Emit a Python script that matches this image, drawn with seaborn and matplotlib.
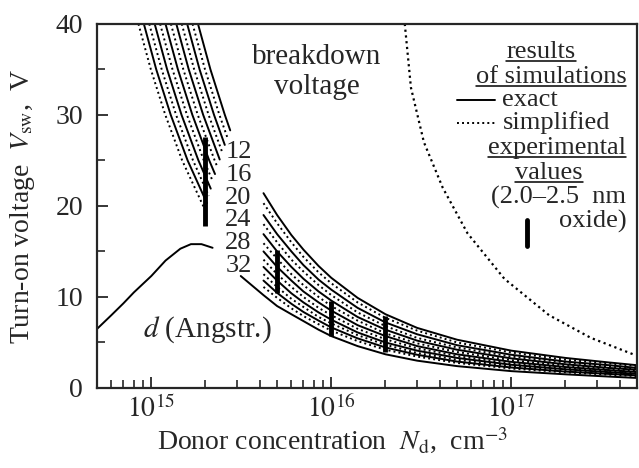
import numpy as np
import matplotlib
matplotlib.use("Agg")
import matplotlib.pyplot as plt
import seaborn as sns
from matplotlib.ticker import FixedLocator, LogLocator, NullFormatter, FuncFormatter, MultipleLocator

# --- data ----------------------------------------------------------------
# oxide thicknesses (Angstrom) of the simulated curves
thicknesses = [12, 16, 20, 24, 28, 32]

# right branch: turn-on voltage at shared donor concentrations
right_n = [4.2e15, 5e15, 6e15, 7e15, 8.5e15, 1e16, 1.4e16, 2e16, 3e16, 5e16,
           1e17, 2e17, 3.5e17, 5e17]
exact_right = {
    12: [21.4, 19.0, 16.8, 15.2, 13.4, 12.1, 9.9, 8.1, 6.6, 5.3, 4.1, 3.3, 2.8, 2.5],
    16: [19.0, 16.9, 15.0, 13.5, 11.9, 10.8, 8.8, 7.2, 5.9, 4.7, 3.65, 2.9, 2.5, 2.2],
    20: [16.9, 15.0, 13.3, 12.0, 10.6, 9.6, 7.8, 6.4, 5.2, 4.2, 3.25, 2.6, 2.2, 2.0],
    24: [15.0, 13.3, 11.8, 10.6, 9.4, 8.5, 6.9, 5.7, 4.6, 3.7, 2.87, 2.3, 1.96, 1.75],
    28: [13.3, 11.8, 10.4, 9.4, 8.3, 7.5, 6.1, 5.0, 4.1, 3.3, 2.55, 2.05, 1.74, 1.55],
    32: [11.8, 10.45, 9.25, 8.35, 7.4, 6.65, 5.45, 4.45, 3.65, 2.9, 2.25, 1.8, 1.54, 1.38],
}
simple_right = {
    12: [20.3, 18.1, 16.0, 14.4, 12.7, 11.5, 9.4, 7.7, 6.3, 5.0, 3.9, 3.1, 2.7, 2.4],
    16: [18.0, 16.0, 14.1, 12.8, 11.3, 10.2, 8.3, 6.8, 5.5, 4.45, 3.45, 2.8, 2.35, 2.1],
    20: [15.9, 14.2, 12.5, 11.3, 10.0, 9.0, 7.4, 6.0, 4.9, 3.95, 3.05, 2.45, 2.1, 1.86],
    24: [14.1, 12.5, 11.1, 10.0, 8.8, 8.0, 6.5, 5.35, 4.35, 3.5, 2.7, 2.18, 1.85, 1.65],
    28: [12.5, 11.1, 9.8, 8.9, 7.8, 7.1, 5.8, 4.75, 3.85, 3.1, 2.4, 1.93, 1.64, 1.46],
    32: [11.1, 9.9, 8.75, 7.9, 7.0, 6.3, 5.15, 4.2, 3.45, 2.75, 2.13, 1.72, 1.46, 1.3],
}

# left branch: donor concentration where each curve crosses the voltages
exact_left_n = {
    12: [1.817e15, 2.130e15, 2.562e15, 2.744e15],
    16: [1.582e15, 1.854e15, 2.231e15, 2.560e15],
    20: [1.377e15, 1.614e15, 1.942e15, 2.399e15],
    24: [1.199e15, 1.405e15, 1.691e15, 2.098e15, 2.259e15],
    28: [1.044e15, 1.224e15, 1.472e15, 1.827e15, 2.139e15],
    32: [9.09e14, 1.065e15, 1.282e15, 1.591e15, 2.038e15],
}
exact_left_v = {
    12: [40, 35, 30, 28.3],
    16: [40, 35, 30, 26.7],
    20: [40, 35, 30, 25.1],
    24: [40, 35, 30, 25, 23.5],
    28: [40, 35, 30, 25, 21.9],
    32: [40, 35, 30, 25, 20.3],
}
simple_left_n = {
    12: [1.695e15, 1.987e15, 2.390e15, 2.648e15],
    16: [1.476e15, 1.730e15, 2.081e15, 2.477e15],
    20: [1.285e15, 1.506e15, 1.812e15, 2.249e15, 2.326e15],
    24: [1.119e15, 1.311e15, 1.578e15, 1.958e15, 2.197e15],
    28: [9.74e14, 1.142e15, 1.373e15, 1.705e15, 2.086e15],
    32: [8.48e14, 9.94e14, 1.196e15, 1.484e15, 1.942e15, 1.993e15],
}
simple_left_v = {
    12: [40, 35, 30, 27.5],
    16: [40, 35, 30, 25.9],
    20: [40, 35, 30, 25, 24.3],
    24: [40, 35, 30, 25, 22.7],
    28: [40, 35, 30, 25, 21.1],
    32: [40, 35, 30, 25, 20, 19.5],
}

# oxide thickness d (drawn on the same axis), split around the labels
d_left_n = [5e14, 6e14, 7e14, 8e14, 1e15, 1.2e15, 1.45e15, 1.66e15, 1.9e15, 2.19e15]
d_left_v = [6.5, 8.0, 9.3, 10.5, 12.3, 14.0, 15.3, 15.8, 15.8, 15.4]
d_right_n = [3.14e15, 4.2e15, 5e15, 6e15, 7e15, 8.5e15, 1e16, 1.4e16, 2e16, 3e16,
             5e16, 1e17, 2e17, 3.5e17, 5e17]
d_right_v = [12.3, 10.2, 9.0, 8.1, 7.35, 6.4, 5.7, 4.6, 3.7, 3.0,
             2.4, 1.85, 1.5, 1.25, 1.1]

# breakdown voltage
breakdown_n = [2.56e16, 2.77e16, 3.27e16, 4.16e16, 5.71e16, 9.15e16, 1.62e17, 2.77e17, 4.9e17]
breakdown_v = [40, 33, 27, 22, 17, 12, 8, 5.5, 3.6]

# experimental ranges
exp_n = [2e15, 5e15, 1e16, 2e16]
exp_lo = [17.8, 10.4, 5.7, 4.0]
exp_hi = [27.6, 15.2, 9.6, 7.9]

# curve labels
label_n = 3.05e15
label_v = [25.9, 23.4, 20.9, 18.4, 15.9, 13.4]

# --- style ------------------------------------------------------------------
sns.set_style("ticks")
plt.rcParams["font.family"] = ["Liberation Serif", "DejaVu Serif"]
plt.rcParams["mathtext.fontset"] = "stix"
FS = 20      # axis labels / ticks
FT = 21      # in-plot text
FN = 19      # curve numbers
FL = 19      # legend block

fig = plt.figure(figsize=(6.39, 4.68), dpi=100)
ax = fig.add_axes([0.152, 0.171, 0.845, 0.778])

dot = (0, (1, 1.6))
lw = 1.4

for d in thicknesses:
    sns.lineplot(x=right_n, y=exact_right[d], ax=ax, color="black", lw=lw,
                 sort=False, estimator=None)
    sns.lineplot(x=right_n, y=simple_right[d], ax=ax, color="black", lw=lw,
                 linestyle=dot, sort=False, estimator=None)
    sns.lineplot(x=exact_left_n[d], y=exact_left_v[d], ax=ax, color="black",
                 lw=lw, sort=False, estimator=None)
    sns.lineplot(x=simple_left_n[d], y=simple_left_v[d], ax=ax, color="black",
                 lw=lw, linestyle=dot, sort=False, estimator=None)

sns.lineplot(x=d_left_n, y=d_left_v, ax=ax, color="black", lw=lw,
             sort=False, estimator=None)
sns.lineplot(x=d_right_n, y=d_right_v, ax=ax, color="black", lw=lw,
             sort=False, estimator=None)
sns.lineplot(x=breakdown_n, y=breakdown_v, ax=ax, color="black", lw=1.6,
             linestyle=dot, sort=False, estimator=None)

ax.vlines(exp_n, exp_lo, exp_hi, color="black", lw=3.5)

ax.set_xscale("log")
ax.set_xlim(5e14, 5e17)
ax.set_ylim(0, 40)

ax.xaxis.set_major_locator(FixedLocator([1e15, 1e16, 1e17]))
ax.xaxis.set_major_formatter(FuncFormatter(lambda v, p: "$10^{%d}$" % round(np.log10(v))))
ax.xaxis.set_minor_locator(LogLocator(base=10, subs=np.arange(2, 10)))
ax.xaxis.set_minor_formatter(NullFormatter())
ax.yaxis.set_major_locator(MultipleLocator(10))
ax.yaxis.set_minor_locator(MultipleLocator(5))

ax.tick_params(which="major", direction="in", length=8, width=1.3,
               labelsize=FS, top=False, right=False)
ax.tick_params(axis="y", which="major", pad=10)
ax.tick_params(axis="x", which="major", pad=5)
ax.tick_params(which="minor", direction="in", length=6, width=1.2,
               top=False, right=False)
for s in ax.spines.values():
    s.set_linewidth(1.6)

ax.set_xlabel("Donor concentration  $N_{\\mathrm{d}}$,  cm$^{-3}$", fontsize=FS)
ax.set_ylabel("Turn-on voltage  $V_{\\mathrm{sw}}$,  V", fontsize=FS)
ax.xaxis.set_label_coords(0.435, -0.105)
ax.yaxis.set_label_coords(-0.112, 0.5)

# in-plot annotations
for d, v in zip(thicknesses, label_v):
    ax.text(label_n, v, str(d), fontsize=FN, ha="center", va="center")
ax.text(2.05e15, 6.4, "$d$ (Angstr.)", fontsize=FT, ha="center", va="center")
ax.text(8.3e15, 36.4, "breakdown", fontsize=FT, ha="center", va="center")
ax.text(8.3e15, 33.1, "voltage", fontsize=FT, ha="center", va="center")

# legend block (axes fraction)
T = ax.transAxes
underlined = []
underlined.append(ax.text(0.822, 0.907, "results", transform=T, fontsize=FL, ha="center", va="baseline"))
underlined.append(ax.text(0.980, 0.838, "of simulations", transform=T, fontsize=FL, ha="right", va="baseline"))
ax.text(0.750, 0.775, "exact", transform=T, fontsize=FL, ha="left", va="baseline")
ax.text(0.752, 0.712, "simplified", transform=T, fontsize=FL, ha="left", va="baseline")
underlined.append(ax.text(0.980, 0.643, "experimental", transform=T, fontsize=FL, ha="right", va="baseline"))
underlined.append(ax.text(0.837, 0.574, "values", transform=T, fontsize=FL, ha="center", va="baseline"))
ax.text(0.980, 0.506, "(2.0\u20132.5  nm", transform=T, fontsize=FL, ha="right", va="baseline")
ax.text(0.980, 0.440, "oxide)", transform=T, fontsize=FL, ha="right", va="baseline")

ax.plot([0.667, 0.737], [0.791, 0.791], transform=T, color="black", lw=lw)
ax.plot([0.667, 0.737], [0.729, 0.729], transform=T, color="black", lw=lw, linestyle=dot)
ax.plot([0.796, 0.796], [0.390, 0.462], transform=T, color="black", lw=3.5)

fig.canvas.draw()
inv = T.inverted()
for t in underlined:
    bb = t.get_window_extent()
    (x0, _), (x1, _) = inv.transform([(bb.x0, 0), (bb.x1, 0)])
    _, yb = t.get_position()
    ax.plot([x0, x1], [yb - 0.009, yb - 0.009], transform=T, color="black", lw=1.1)

fig.savefig("out.png", dpi=100)
